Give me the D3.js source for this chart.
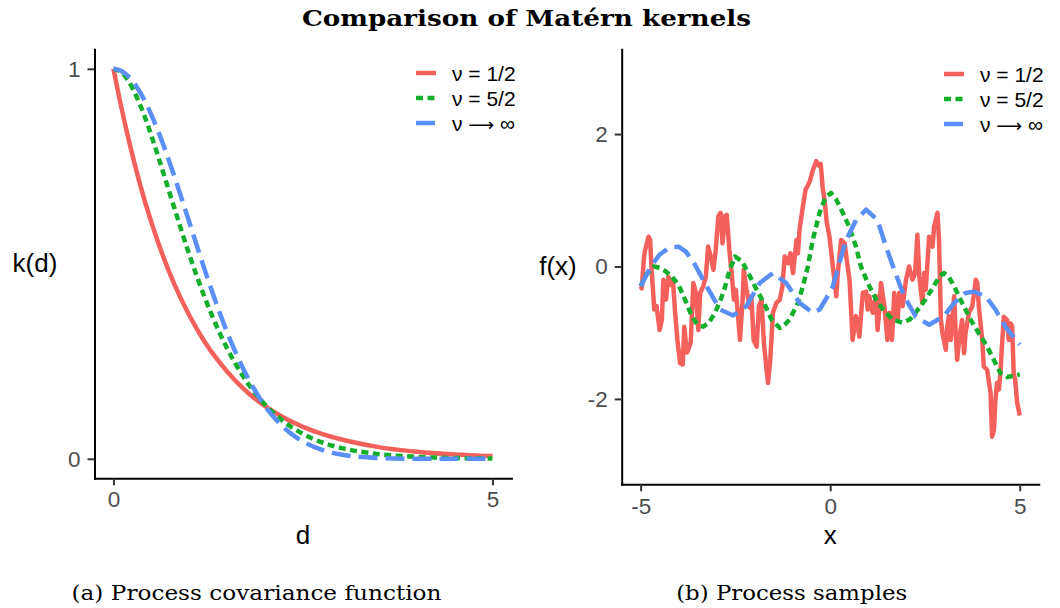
<!DOCTYPE html>
<html>
<head>
<meta charset="utf-8">
<script src="https://cdn.jsdelivr.net/npm/d3@7"></script>
<style>
  body { margin: 0; background: #fff; }
  svg { display: block; }
</style>
</head>
<body>
<svg id="chart" width="1060" height="608"></svg>
<script>
// legend / series
const seriesNames = [["ν = 1/2"], ["ν = 5/2"], ["ν ", "⟶", " ∞"]];
const seriesColors = ["#F4615C", "#14AE2D", "#5A8FF7"];
const seriesDash = [null, "7,4.5", "19,8"];

// (a) covariance as a function of distance d
const kernelD        = [0, 0.1, 0.2, 0.3, 0.4, 0.5, 0.6, 0.8, 1.0, 1.2, 1.4, 1.6, 1.8, 2.0, 2.25, 2.5, 2.75, 3.0, 3.5, 4.0, 4.5, 5.0];
const kernelHalf     = [1, 0.905, 0.819, 0.741, 0.670, 0.607, 0.549, 0.449, 0.368, 0.301, 0.247, 0.202, 0.165, 0.135, 0.105, 0.082, 0.064, 0.050, 0.030, 0.018, 0.011, 0.007];
const kernelFiveHalf = [1, 0.992, 0.968, 0.931, 0.884, 0.829, 0.769, 0.645, 0.524, 0.416, 0.323, 0.247, 0.186, 0.139, 0.095, 0.064, 0.042, 0.028, 0.012, 0.005, 0.002, 0.001];
const kernelInf      = [1, 0.995, 0.980, 0.956, 0.923, 0.882, 0.835, 0.726, 0.607, 0.487, 0.375, 0.278, 0.198, 0.135, 0.080, 0.044, 0.023, 0.011, 0.002, 0.000, 0.000, 0.000];

// (b) one sample path per kernel
const sampleHalfX = [-5.00,-4.97,-4.91,-4.88,-4.85,-4.79,-4.75,-4.71,-4.64,-4.58,-4.50,-4.44,-4.40,-4.33,-4.27,-4.22,-4.15,-4.09,-4.03,-3.96,
  -3.89,-3.85,-3.78,-3.74,-3.68,-3.61,-3.54,-3.48,-3.43,-3.35,-3.28,-3.22,-3.15,-3.08,-3.02,-2.95,-2.89,-2.84,-2.78,-2.73,
  -2.66,-2.60,-2.54,-2.49,-2.43,-2.38,-2.31,-2.28,-2.21,-2.12,-2.08,-2.02,-1.94,-1.88,-1.81,-1.75,-1.68,-1.64,-1.58,-1.51,
  -1.42,-1.33,-1.26,-1.20,-1.11,-1.05,-0.98,-0.89,-0.85,-0.81,-0.72,-0.65,-0.59,-0.53,-0.46,-0.37,-0.29,-0.25,-0.20,-0.15,
  -0.09,-0.02,0.07,0.16,0.20,0.29,0.38,0.46,0.51,0.59,0.68,0.77,0.86,0.95,0.99,1.03,1.12,1.21,1.25,1.30,
  1.34,1.43,1.51,1.56,1.63,1.69,1.78,1.82,1.91,2.00,2.08,2.17,2.24,2.30,2.35,2.43,2.48,2.52,2.61,2.70,
  2.74,2.83,2.87,2.92,2.96,3.05,3.09,3.13,3.18,3.27,3.31,3.35,3.40,3.48,3.53,3.57,3.66,3.75,3.84,3.88,
  3.92,4.01,4.05,4.14,4.23,4.27,4.32,4.36,4.40,4.45,4.49,4.53,4.58,4.67,4.71,4.76,4.80,4.84,4.88,4.93,5.00];
const sampleHalfY = [-0.30,-0.33,0.15,0.25,0.32,0.45,0.40,-0.05,-0.65,-0.60,-0.96,-0.80,-0.20,-0.50,-0.15,-0.28,-0.20,-0.70,-1.11,-1.46,
  -1.48,-0.91,-1.30,-1.25,-1.15,-0.25,-0.40,-0.96,-0.40,-0.30,-0.15,0.30,0.15,-0.05,0.25,0.76,0.81,0.35,0.76,0.78,
  0.25,-0.10,-0.50,-0.35,-0.75,-1.11,-0.50,-0.05,-0.35,-0.62,-0.45,-1.11,-1.21,-0.60,-0.50,-1.15,-1.55,-1.76,-1.40,-0.70,
  -0.55,-0.50,-0.30,0.15,0.05,0.20,-0.10,0.40,0.20,0.55,0.91,1.16,1.22,1.30,1.45,1.59,1.52,1.55,1.20,1.01,
  0.66,0.45,0.00,-0.45,-0.10,0.40,0.35,0.00,-0.20,-1.11,-0.75,-1.06,-0.40,-0.38,-0.65,-0.45,-0.70,-0.45,-0.96,-0.60,
  -0.25,-0.60,-1.11,-0.70,-1.11,-0.40,-0.81,-0.40,-0.60,-0.20,0.00,-0.20,-0.10,0.48,-0.15,-0.55,-0.10,-0.35,0.45,0.30,
  0.60,0.81,0.40,-0.80,-1.00,-1.26,-0.90,-0.75,-1.11,-0.45,-1.00,-1.41,-1.11,-0.81,-1.31,-1.01,-0.70,-0.60,-0.20,-0.25,
  -0.60,-1.11,-1.51,-1.56,-1.91,-2.57,-2.47,-2.01,-1.76,-1.86,-1.61,-1.21,-0.76,-0.81,-1.11,-0.86,-0.90,-1.61,-1.71,-2.05,-2.25];

const sampleFiveHalfX = [-5.00,-4.85,-4.65,-4.50,-4.35,-4.18,-4.00,-3.83,-3.65,-3.50,-3.35,-3.20,-3.04,-2.90,-2.78,-2.65,-2.51,-2.33,-2.16,-1.94,
  -1.73,-1.55,-1.33,-1.20,-1.07,-0.85,-0.72,-0.59,-0.46,-0.28,-0.12,0.02,0.15,0.29,0.50,0.68,0.81,0.99,1.21,1.43,
  1.65,1.90,2.10,2.25,2.51,2.73,2.88,3.00,3.12,3.27,3.48,3.70,3.92,4.14,4.36,4.49,4.67,4.85,5.00];
const sampleFiveHalfY = [-0.30,-0.12,0.00,-0.02,-0.07,-0.15,-0.28,-0.50,-0.75,-0.88,-0.91,-0.85,-0.70,-0.52,-0.32,-0.05,0.15,0.08,-0.10,-0.35,
  -0.57,-0.80,-0.93,-0.88,-0.80,-0.55,-0.30,0.00,0.40,0.81,1.05,1.11,1.02,0.86,0.60,0.30,0.00,-0.25,-0.50,-0.68,
  -0.80,-0.85,-0.80,-0.70,-0.50,-0.30,-0.15,-0.10,-0.15,-0.30,-0.55,-0.80,-1.01,-1.21,-1.46,-1.61,-1.67,-1.65,-1.63];

const sampleInfX = [-5.00,-4.75,-4.50,-4.25,-4.00,-3.80,-3.57,-3.26,-2.91,-2.56,-2.21,-1.86,-1.51,-1.16,-0.81,-0.46,-0.28,-0.10,0.07,0.24,
  0.42,0.68,0.95,1.25,1.47,1.69,1.95,2.26,2.61,3.00,3.27,3.57,3.79,4.10,4.36,4.62,5.00];
const sampleInfY = [-0.30,-0.02,0.18,0.28,0.30,0.22,0.03,-0.30,-0.65,-0.74,-0.60,-0.25,-0.10,-0.25,-0.55,-0.70,-0.65,-0.48,-0.30,0.05,
  0.40,0.70,0.86,0.70,0.30,-0.05,-0.45,-0.76,-0.88,-0.75,-0.55,-0.40,-0.38,-0.45,-0.65,-0.91,-1.18];

const kernelTicksX = [0, 5];
const kernelTicksY = [0, 1];
const sampleTicksX = [-5, 0, 5];
const sampleTicksY = [-2, 0, 2];

const svg = d3.select('#chart');
const sans = "'Liberation Sans', Arial, sans-serif";
const serif = "'DejaVu Serif', serif";

function drawPanel(cfg) {
  const x = d3.scaleLinear().domain(cfg.xDomain).range(cfg.xRange);
  const y = d3.scaleLinear().domain(cfg.yDomain).range(cfg.yRange);
  const g = svg.append('g');

  const line = d3.line()
                 .x(d => x(d[0]))
                 .y(d => y(d[1]))
                 .curve(cfg.curve);

  cfg.series.forEach((s, i) => {
    g.append('path')
      .datum(d3.zip(s.x, s.y))
      .attr('d', line)
      .attr('fill', 'none')
      .attr('stroke', seriesColors[i])
      .attr('stroke-width', 4.5)
      .attr('stroke-linejoin', 'round')
      .attr('stroke-dasharray', seriesDash[i]);
  });

  const fmt = d => String(d);
  const xAxis = g.append('g')
    .attr('transform', `translate(0,${cfg.yRange[0]})`)
    .call(d3.axisBottom(x).tickValues(cfg.xTicks).tickFormat(fmt)
      .tickSize(7).tickSizeOuter(0).tickPadding(cfg.xPad));
  const yAxis = g.append('g')
    .attr('transform', `translate(${cfg.xRange[0]},0)`)
    .call(d3.axisLeft(y).tickValues(cfg.yTicks).tickFormat(fmt)
      .tickSize(7).tickSizeOuter(0).tickPadding(7));

  [xAxis, yAxis].forEach(a => {
    a.select('.domain').attr('stroke', '#000').attr('stroke-width', 2).attr('stroke-linecap', 'square');
    a.selectAll('.tick line').attr('stroke', '#333').attr('stroke-width', 2);
    a.selectAll('.tick text')
      .attr('fill', '#4D4D4D')
      .style('font-family', sans)
      .style('font-size', '22.5px');
  });

  g.append('text')
    .attr('x', (cfg.xRange[0] + cfg.xRange[1]) / 2)
    .attr('y', 544)
    .attr('text-anchor', 'middle')
    .style('font-family', sans)
    .style('font-size', '26px')
    .text(cfg.xTitle);

  g.append('text')
    .attr('x', cfg.yTitleX)
    .attr('y', (cfg.yRange[0] + cfg.yRange[1]) / 2)
    .attr('dy', '0.3em')
    .attr('text-anchor', 'middle')
    .style('font-family', sans)
    .style('font-size', '26px')
    .text(cfg.yTitle);

  // legend, top right inside the panel
  const leg = g.append('g').attr('transform', `translate(${cfg.legendX},${cfg.legendY})`);
  seriesNames.forEach((parts, i) => {
    leg.append('line')
      .attr('x1', 0).attr('x2', 20)
      .attr('y1', i * 25).attr('y2', i * 25)
      .attr('stroke', seriesColors[i])
      .attr('stroke-width', 4.5)
      .attr('stroke-dasharray', seriesDash[i]);
    const t = leg.append('text')
      .attr('x', 36)
      .attr('y', i * 25 + 1)
      .attr('dy', '0.35em')
      .style('font-family', sans)
      .style('font-size', '21px');
    parts.forEach(p => {
      t.append('tspan')
        .style('font-family', p === '⟶' ? "'DejaVu Sans', sans-serif" : sans)
        .style('font-size', p === '⟶' ? '18px' : null)
        .text(p);
    });
  });
}

drawPanel({
  xDomain: [-0.25, 5.25], xRange: [94.5, 511.4],
  yDomain: [-0.05, 1.05], yRange: [478.3, 49.3],
  xTicks: kernelTicksX, yTicks: kernelTicksY, xPad: 6,
  curve: d3.curveMonotoneX,
  series: [
    {x: kernelD, y: kernelHalf},
    {x: kernelD, y: kernelFiveHalf},
    {x: kernelD, y: kernelInf}
  ],
  xTitle: 'd', yTitle: 'k(d)', yTitleX: 35,
  legendX: 416, legendY: 73
});

drawPanel({
  xDomain: [-5.5, 5.5], xRange: [621.7, 1038.7],
  yDomain: [-3.29, 3.28], yRange: [484.3, 49.3],
  xTicks: sampleTicksX, yTicks: sampleTicksY, xPad: 6.5,
  curve: d3.curveLinear,
  series: [
    {x: sampleHalfX, y: sampleHalfY},
    {x: sampleFiveHalfX, y: sampleFiveHalfY},
    {x: sampleInfX, y: sampleInfY}
  ],
  xTitle: 'x', yTitle: 'f(x)', yTitleX: 558,
  legendX: 944, legendY: 74
});

svg.append('text')
  .attr('x', 526.5).attr('y', 26)
  .attr('text-anchor', 'middle')
  .attr('textLength', 449).attr('lengthAdjust', 'spacingAndGlyphs')
  .style('font-family', serif).style('font-weight', 'bold').style('font-size', '22px')
  .text('Comparison of Matérn kernels');

svg.append('text')
  .attr('x', 256.5).attr('y', 600)
  .attr('text-anchor', 'middle')
  .attr('textLength', 370).attr('lengthAdjust', 'spacingAndGlyphs')
  .style('font-family', serif).style('font-size', '21px')
  .text('(a) Process covariance function');

svg.append('text')
  .attr('x', 791.7).attr('y', 600)
  .attr('text-anchor', 'middle')
  .attr('textLength', 231).attr('lengthAdjust', 'spacingAndGlyphs')
  .style('font-family', serif).style('font-size', '21px')
  .text('(b) Process samples');
</script>
</body>
</html>
